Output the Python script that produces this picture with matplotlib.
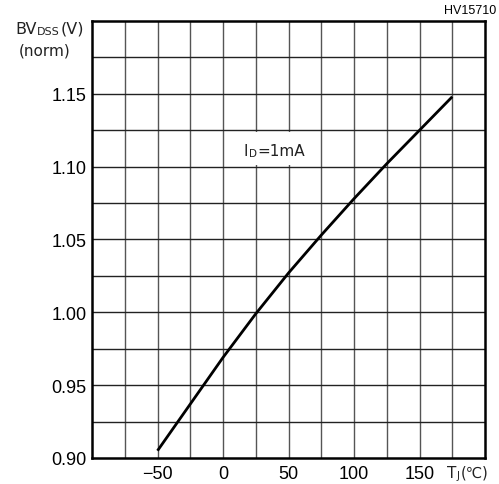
import matplotlib
matplotlib.use("Agg")
import matplotlib.pyplot as plt
from matplotlib.patches import Rectangle
import numpy as np

# data
temps = [-50, -25, 0, 25, 50, 75, 100, 125, 150, 175]
bv_norm = [0.905, 0.937, 0.969, 0.999, 1.027, 1.053, 1.078, 1.102, 1.125, 1.148]
x_ticks = [-50, 0, 50, 100, 150]
x_tick_labels = ["\u221250", "0", "50", "100", "150"]
y_ticks = [0.90, 0.95, 1.00, 1.05, 1.10, 1.15]
y_tick_labels = ["0.90", "0.95", "1.00", "1.05", "1.10", "1.15"]

plt.rcParams['font.family'] = ['Liberation Sans', 'DejaVu Sans']
TC = '#222222'

fig = plt.figure(figsize=(4.99, 4.85), dpi=100)
ax = fig.add_axes([92/499, 1-459/485, (485-92)/499, (459-22)/485])
ax.set_xlim(-100, 200)
ax.set_ylim(0.90, 1.20)

# grid
for xv in np.arange(-75, 200, 25):
    ax.axvline(xv, color='#555555', lw=1.0, zorder=1)
for yv in np.arange(0.925, 1.2, 0.025):
    ax.axhline(yv, color='#222222', lw=1.0, zorder=1)

# label box covering grid
ax.add_patch(Rectangle((1.2, 1.1012), 72.6, 0.0226, facecolor='white',
                       edgecolor='none', zorder=2))


def chain(prev, s, size, dx=0.5):
    return ax.annotate(s, xy=(1, 0), xycoords=prev, xytext=(dx, 0),
                       textcoords='offset points', fontsize=size,
                       family='DejaVu Sans', color=TC, ha='left', va='bottom',
                       zorder=3, annotation_clip=False)


tI = ax.text(16.0, 1.1060, "I", fontsize=11, family='DejaVu Sans', color=TC,
             ha='left', va='bottom', zorder=3)
tD = chain(tI, "D", 7.5)
chain(tD, "=1mA", 11)

ax.plot(temps, bv_norm, color='black', lw=2.0, zorder=4, solid_capstyle='butt')

ax.set_xticks(x_ticks)
ax.set_xticklabels(x_tick_labels)
ax.set_yticks(y_ticks)
ax.set_yticklabels(y_tick_labels)
ax.tick_params(length=0, labelsize=13, colors='black')
ax.tick_params(axis='y', pad=4)
ax.tick_params(axis='x', pad=5)
for s in ax.spines.values():
    s.set_linewidth(1.8)
    s.set_zorder(5)

# y-axis label
tB = fig.text(15/499, 1-37/485, "BV", fontsize=11.5, family='DejaVu Sans', color=TC,
              ha='left', va='bottom')
tS = chain(tB, "DSS", 8, dx=0.6)
chain(tS, "(V)", 11.5, dx=0.6)
fig.text(19/499, 1-51/485, "(norm)", fontsize=11, family='DejaVu Sans', color=TC,
         ha='left', va='center')

# x-axis label
tT = fig.text(447/499, 1-481/485, "T", fontsize=11, family='DejaVu Sans', color=TC,
              ha='left', va='bottom')
tJ = chain(tT, "J", 7.5, dx=0.2)
chain(tJ, "(\u2103)", 10.5, dx=1.0)

fig.text(496/499, 1-11/485, "HV15710", fontsize=9, color='black',
         ha='right', va='center')

fig.savefig("out.png", dpi=100)
